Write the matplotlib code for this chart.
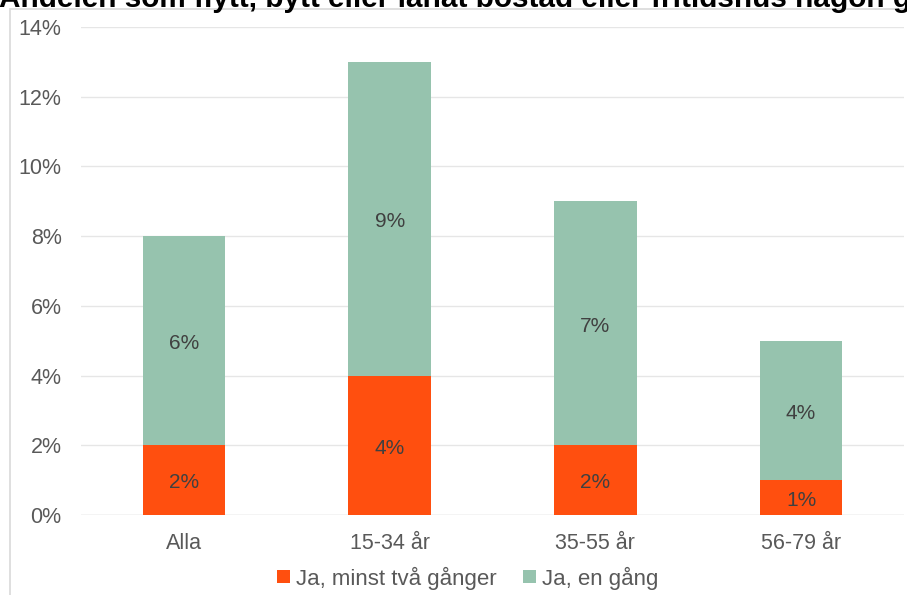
import matplotlib.pyplot as plt
from matplotlib.patches import Rectangle
from matplotlib.ticker import FuncFormatter

plt.rcParams['font.family'] = ['Liberation Sans', 'DejaVu Sans']

categories = ['Alla', '15-34 år', '35-55 år', '56-79 år']
ja_flera = [2, 4, 2, 1]
ja_en = [6, 9, 7, 4]
series_names = ['Ja, minst två gånger', 'Ja, en gång']
title = 'Andelen som flytt, bytt eller lånat bostad eller fritidshus någon gång'

orange = '#FF4F0F'
green = '#96C3AE'
grey = '#595959'

fig = plt.figure(figsize=(9.07, 5.95), dpi=100)
ax = fig.add_axes([81 / 907, 1 - 515 / 595, (904 - 81) / 907, (515 - 27) / 595])

# light frame round the chart area
fig.patches.append(Rectangle((10 / 907, -0.05), 1.0, 1 - 9 / 595 + 0.05,
                             transform=fig.transFigure, fill=False,
                             edgecolor='#D9D9D9', linewidth=1.2))

x = range(len(categories))
b1 = ax.bar(x, ja_flera, width=0.4, color=orange, label=series_names[0], zorder=3)
b2 = ax.bar(x, ja_en, width=0.4, bottom=ja_flera, color=green, label=series_names[1], zorder=3)

for bars, vals, bottoms in [(b1, ja_flera, [0] * 4), (b2, ja_en, ja_flera)]:
    for rect, v, b in zip(bars, vals, bottoms):
        ax.text(rect.get_x() + rect.get_width() / 2, b + v / 2 - 0.08, f'{v}%',
                ha='center', va='center', fontsize=15, color='#404040', zorder=4)

ax.set_xlim(-0.5, len(categories) - 0.5)
ax.set_ylim(0, 14)
ax.set_yticks(range(0, 15, 2))
ax.yaxis.set_major_formatter(FuncFormatter(lambda v, p: f'{v:.0f}%'))
ax.set_xticks(list(x))
ax.set_xticklabels(categories)
ax.tick_params(axis='y', length=0, pad=14, labelsize=15.5, labelcolor=grey)
ax.tick_params(axis='x', length=0, pad=13, labelsize=15.5, labelcolor=grey)
ax.grid(axis='y', color='#E6E6E6', linewidth=1, zorder=0)
for s in ax.spines.values():
    s.set_visible(False)
ax.axhline(0, color='#E0E0E0', linewidth=1, zorder=2)

fig.legend(handles=[b1, b2], loc='center', bbox_to_anchor=(468 / 907, 1 - 578 / 595),
           ncol=2, frameon=False, fontsize=16, labelcolor=grey,
           handlelength=0.55, handleheight=0.55, handletextpad=0.3, columnspacing=1.2)

fig.text(-1 / 907, 1 - 7 / 595, title, ha='left', va='baseline',
         fontsize=21.4, fontweight='bold', color='black')

fig.savefig('out.png', dpi=100)
